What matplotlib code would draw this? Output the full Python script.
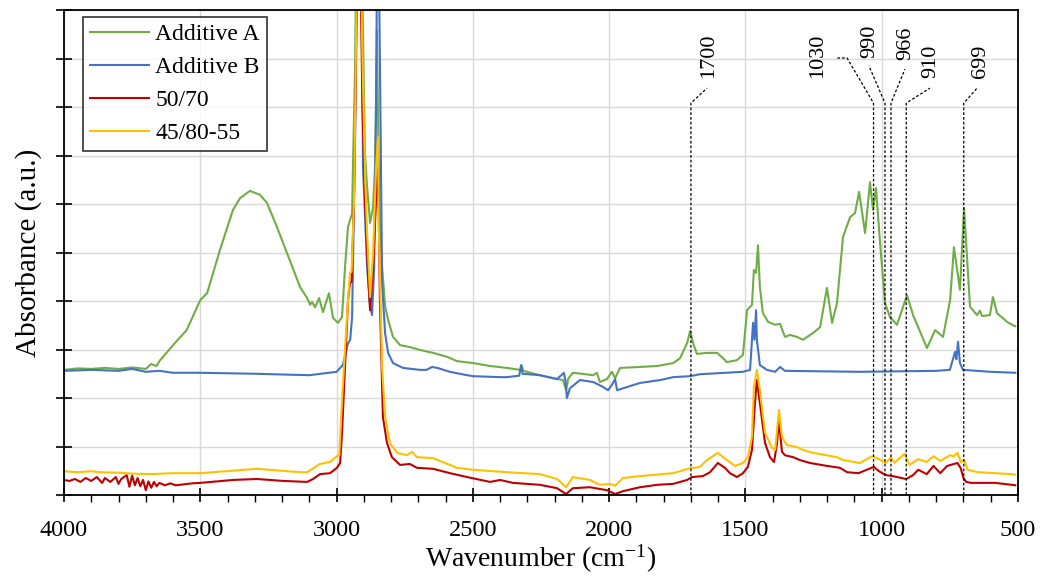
import matplotlib
matplotlib.use("Agg")
import matplotlib.pyplot as plt
from matplotlib.ticker import MultipleLocator, NullFormatter

plt.rcParams['font.family'] = ['Liberation Serif', 'DejaVu Serif']
plt.rcParams['mathtext.fontset'] = 'custom'
plt.rcParams['mathtext.rm'] = 'Liberation Serif'
plt.rcParams['mathtext.it'] = 'Liberation Serif:italic'

# ---- spectra (wavenumber in cm-1, absorbance in a.u.) ----
wnA = [4000, 3950, 3900, 3850, 3800, 3750, 3700, 3680, 3660, 3650, 3600, 3550, 3500, 3475, 3428, 3380,
       3354, 3318, 3281, 3255, 3219, 3182, 3134, 3108, 3097, 3090, 3079, 3064, 3050, 3028, 3013, 2995,
       2980, 2969, 2958, 2943, 2940, 2932, 2929, 2918, 2907, 2899, 2896, 2888, 2877, 2866, 2859, 2855,
       2852, 2846, 2841, 2833, 2822, 2811, 2793, 2767, 2731, 2694, 2646, 2595, 2558, 2499, 2437, 2375,
       2327, 2320, 2315, 2254, 2191, 2169, 2158, 2150, 2133, 2100, 2059, 2045, 2034, 2008, 1990, 1978,
       1960, 1887, 1824, 1765, 1740, 1714, 1703, 1692, 1678, 1641, 1604, 1582, 1568, 1531, 1509, 1494,
       1476, 1469, 1461, 1454, 1447, 1436, 1417, 1391, 1373, 1355, 1336, 1311, 1289, 1252, 1226, 1201,
       1182, 1164, 1142, 1116, 1098, 1083, 1061, 1043, 1032, 1021, 1006, 988, 970, 944, 907, 885,
       834, 804, 775, 749, 735, 713, 698, 676, 650, 640, 632, 603, 592, 577, 540, 522, 510]
absA = [2.58, 2.61, 2.60, 2.62, 2.60, 2.63, 2.60, 2.70, 2.66, 2.76, 3.09, 3.40, 4.02, 4.16, 5.05, 5.88,
        6.12, 6.27, 6.19, 6.02, 5.53, 4.99, 4.29, 4.06, 3.92, 3.98, 3.87, 4.06, 3.77, 4.16, 3.65, 3.55,
        3.67, 4.70, 5.53, 5.81, 6.76, 8.82, 10.5, 14.0, 11.0, 8.10, 7.05, 6.35, 5.61, 5.94, 6.76, 8.14,
        9.59, 7.00, 5.60, 4.70, 3.90, 3.61, 3.26, 3.09, 3.05, 2.99, 2.93, 2.85, 2.76, 2.72, 2.66, 2.62,
        2.58, 2.66, 2.56, 2.47, 2.39, 2.37, 2.16, 2.40, 2.52, 2.50, 2.47, 2.52, 2.33, 2.39, 2.54, 2.41,
        2.62, 2.64, 2.66, 2.72, 2.82, 3.13, 3.38, 3.13, 2.91, 2.93, 2.93, 2.82, 2.74, 2.78, 2.89, 3.81,
        3.92, 4.64, 4.58, 5.15, 4.29, 3.75, 3.57, 3.51, 3.53, 3.26, 3.30, 3.26, 3.20, 3.34, 3.46, 4.27,
        3.55, 3.96, 5.32, 5.73, 5.81, 6.25, 5.40, 6.45, 5.88, 6.33, 5.20, 3.96, 3.67, 3.51, 4.12, 3.71,
        3.03, 3.40, 3.26, 4.02, 5.11, 4.23, 5.92, 3.88, 3.71, 3.80, 3.69, 3.71, 4.08, 3.75, 3.57, 3.51, 3.48]

wnB = [4000, 3900, 3800, 3750, 3700, 3650, 3600, 3500, 3300, 3100, 3000, 2977, 2958, 2950, 2943, 2940,
       2932, 2925, 2915, 2907, 2903, 2888, 2877, 2870, 2862, 2855, 2848, 2843, 2838, 2833, 2822, 2811,
       2793, 2756, 2694, 2670, 2650, 2630, 2584, 2521, 2499, 2400, 2375, 2330, 2323, 2318, 2254, 2191,
       2166, 2160, 2155, 2144, 2107, 2059, 2023, 2004, 1990, 1978, 1971, 1949, 1887, 1813, 1765, 1703,
       1667, 1509, 1483, 1472, 1467, 1461, 1458, 1447, 1421, 1391, 1373, 1355, 1080, 800, 750, 731,
       726, 720, 713, 702, 600, 510]
absB = [2.56, 2.58, 2.56, 2.60, 2.54, 2.56, 2.52, 2.52, 2.50, 2.47, 2.54, 2.68, 3.13, 3.20, 3.67, 4.70,
        7.46, 12.0, 14.0, 10.0, 6.76, 4.70, 3.88, 3.71, 4.70, 8.14, 14.0, 10.0, 7.30, 4.37, 3.34, 2.93,
        2.72, 2.62, 2.58, 2.58, 2.64, 2.62, 2.54, 2.47, 2.45, 2.43, 2.43, 2.46, 2.68, 2.50, 2.47, 2.39,
        2.52, 2.35, 2.00, 2.20, 2.37, 2.33, 2.23, 2.16, 2.27, 2.39, 2.16, 2.20, 2.31, 2.37, 2.43, 2.45,
        2.49, 2.54, 2.58, 3.55, 3.20, 3.81, 3.20, 2.68, 2.58, 2.54, 2.64, 2.56, 2.54, 2.56, 2.58, 2.95,
        2.80, 3.16, 2.72, 2.58, 2.54, 2.52]

wn5070 = [4000, 3980, 3960, 3940, 3920, 3900, 3880, 3860, 3850, 3830, 3810, 3800, 3790, 3770, 3760, 3750,
          3740, 3730, 3720, 3710, 3700, 3690, 3680, 3670, 3660, 3650, 3630, 3610, 3590, 3560, 3530, 3500,
          3380, 3292, 3196, 3108, 3086, 3061, 3024, 2999, 2987, 2980, 2969, 2958, 2951, 2945, 2936, 2929,
          2918, 2905, 2895, 2885, 2877, 2866, 2855, 2848, 2841, 2833, 2830, 2815, 2797, 2767, 2731, 2705,
          2646, 2584, 2521, 2437, 2400, 2353, 2254, 2191, 2158, 2133, 2070, 2008, 1978, 1949, 1887, 1824,
          1765, 1714, 1696, 1656, 1630, 1601, 1575, 1557, 1531, 1509, 1491, 1476, 1465, 1458, 1447, 1428,
          1410, 1395, 1384, 1377, 1366, 1355, 1325, 1300, 1263, 1201, 1153, 1127, 1085, 1029, 1010, 985,
          960, 910, 885, 866, 835, 810, 785, 760, 735, 722, 710, 700, 690, 672, 585, 522, 510]
abs5070 = [0.31, 0.29, 0.33, 0.27, 0.35, 0.29, 0.37, 0.25, 0.35, 0.27, 0.37, 0.23, 0.33, 0.41, 0.17, 0.40,
           0.20, 0.35, 0.18, 0.31, 0.10, 0.28, 0.15, 0.27, 0.18, 0.25, 0.20, 0.24, 0.20, 0.22, 0.24, 0.25,
           0.31, 0.33, 0.29, 0.27, 0.33, 0.43, 0.45, 0.56, 0.66, 1.28, 2.64, 4.02, 4.37, 4.40, 6.08, 8.82,
           13.0, 8.00, 6.00, 4.60, 3.81, 4.70, 6.08, 7.00, 4.00, 2.31, 1.61, 1.07, 0.78, 0.62, 0.64, 0.56,
           0.54, 0.45, 0.37, 0.27, 0.31, 0.25, 0.21, 0.14, 0.02, 0.14, 0.16, 0.10, 0.02, 0.08, 0.16, 0.21,
           0.23, 0.31, 0.37, 0.39, 0.47, 0.66, 0.56, 0.45, 0.37, 0.45, 0.58, 0.93, 1.90, 2.37, 1.90, 1.07,
           0.78, 0.68, 1.07, 1.55, 0.89, 0.82, 0.78, 0.72, 0.66, 0.60, 0.56, 0.47, 0.45, 0.58, 0.49, 0.41,
           0.39, 0.33, 0.41, 0.52, 0.43, 0.60, 0.45, 0.60, 0.64, 0.66, 0.55, 0.35, 0.27, 0.25, 0.25, 0.21, 0.20]

wn4580 = [4000, 3950, 3900, 3868, 3800, 3750, 3684, 3600, 3500, 3292, 3134, 3108, 3061, 3024, 2999, 2990,
          2980, 2962, 2951, 2945, 2936, 2929, 2918, 2905, 2895, 2888, 2877, 2866, 2855, 2848, 2845, 2833,
          2822, 2804, 2778, 2742, 2723, 2705, 2646, 2584, 2558, 2499, 2375, 2254, 2191, 2158, 2133, 2070,
          2034, 1997, 1978, 1949, 1887, 1765, 1711, 1667, 1641, 1601, 1568, 1538, 1509, 1491, 1476, 1469,
          1458, 1447, 1428, 1402, 1391, 1384, 1377, 1366, 1348, 1311, 1289, 1252, 1164, 1142, 1080, 1035,
          1010, 985, 966, 954, 916, 898, 866, 835, 810, 785, 750, 735, 722, 710, 697, 685, 647, 585, 522, 510]
abs4580 = [0.49, 0.47, 0.49, 0.47, 0.46, 0.44, 0.43, 0.45, 0.45, 0.54, 0.47, 0.47, 0.64, 0.68, 0.80, 0.82,
           1.96, 3.67, 4.58, 4.60, 6.08, 9.18, 14.0, 9.00, 6.50, 5.40, 4.08, 4.99, 6.76, 7.38, 5.50, 2.64,
           1.61, 1.07, 0.87, 0.82, 0.89, 0.78, 0.76, 0.62, 0.56, 0.52, 0.47, 0.43, 0.33, 0.16, 0.37, 0.31,
           0.21, 0.23, 0.19, 0.35, 0.39, 0.45, 0.54, 0.58, 0.72, 0.87, 0.72, 0.60, 0.66, 0.78, 1.20, 2.23,
           2.58, 2.16, 1.28, 0.97, 0.93, 1.34, 1.75, 1.20, 1.03, 0.99, 0.93, 0.87, 0.78, 0.72, 0.66, 0.80,
           0.74, 0.66, 0.78, 0.66, 0.85, 0.62, 0.74, 0.68, 0.80, 0.70, 0.82, 0.80, 0.87, 0.68, 0.72, 0.52,
           0.47, 0.45, 0.43, 0.42]

series_names = ["Additive A", "Additive B", "50/70", "45/80-55"]
series_colors = ["#70AD47", "#4472C4", "#C00000", "#FFC000"]

# marked bands: label, line position, leader path (wn, y), label anchor (wn, y)
band_labels = ["1700", "1030", "990", "966", "910", "699"]
band_wn = [1700, 1030, 988, 966, 910, 699]
line_top = 8.08
leader_paths = [
    [(1641, 8.39)],
    [(1127, 9.01), (1164, 9.01)],
    [(1047, 8.85)],
    [(915, 8.78)],
    [(823, 8.39)],
    [(650, 8.39)],
]
label_pos = [(1634, 8.6), (1234, 8.6), (1043, 9.01), (911, 8.97), (819, 8.6), (639, 8.6)]

fig = plt.figure(figsize=(10.52, 5.8), dpi=100)
ax = fig.add_axes([64 / 1052, 85 / 580, 954 / 1052, 485 / 580])

data = [(wnA, absA), (wnB, absB), (wn5070, abs5070), (wn4580, abs4580)]
for (x, y), name, c in zip(data, series_names, series_colors):
    ax.plot(x, y, color=c, lw=1.5, label=name)

for lab, wn, path, (lx, ly) in zip(band_labels, band_wn, leader_paths, label_pos):
    xs = [wn, wn] + [p[0] for p in path]
    ys = [0, line_top] + [p[1] for p in path]
    ax.plot(xs, ys, color="black", lw=0.9, ls=(0, (2.2, 1.6)), zorder=5)
    ax.text(lx, ly, lab, rotation=90, ha="center", va="bottom", fontsize=16)

ax.set_xlim(4000, 500)
ax.set_ylim(0, 10)
ax.xaxis.set_major_locator(MultipleLocator(500))
ax.xaxis.set_minor_locator(MultipleLocator(100))
ax.yaxis.set_major_locator(MultipleLocator(1))
ax.yaxis.set_major_formatter(NullFormatter())
ax.grid(True, which="major", color="#d9d9d9", lw=1.0)
ax.set_axisbelow(True)

ax.tick_params(axis="x", which="major", direction="inout", length=10, width=1.2, labelsize=17.5, pad=13)
ax.tick_params(axis="x", which="minor", direction="out", length=5, width=1.0)
ax.tick_params(axis="y", which="major", direction="inout", length=11, width=1.2)
for sp in ax.spines.values():
    sp.set_linewidth(1.3)

ax.set_xlabel("Wavenumber (cm$^{-1}$)", fontsize=20, labelpad=1)
ax.set_ylabel("Absorbance (a.u.)", fontsize=21, labelpad=7)

leg = ax.legend(loc="upper left", bbox_to_anchor=(0.02, 0.986), borderaxespad=0,
                fontsize=17, frameon=True, fancybox=False, edgecolor="black",
                handlelength=2.5, handletextpad=0.25, labelspacing=0.48, borderpad=0.3)
leg.get_frame().set_linewidth(1.2)

fig.savefig("out.png", dpi=100)
